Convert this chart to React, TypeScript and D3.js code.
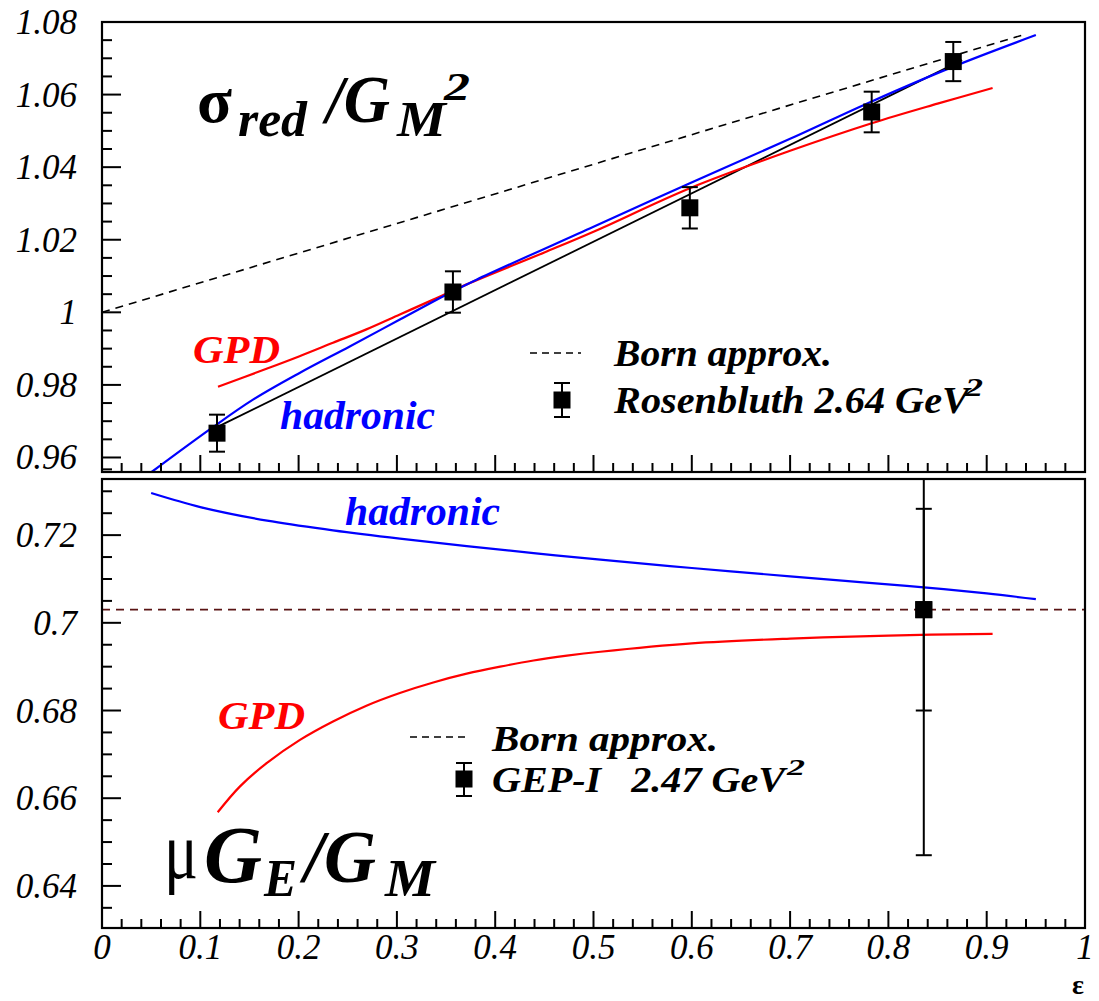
import React from "react";
import * as d3 from "d3";

// top panel: reduced cross section / G_M^2
const rosenEps = [0.117, 0.357, 0.598, 0.783, 0.866];
const rosenVals = [0.9667, 1.0056, 1.0288, 1.0552, 1.0691];
const rosenErr = [0.0051, 0.0057, 0.0057, 0.0056, 0.0054];

const fitEps = [0.118, 0.875];
const fitVals = [0.9685, 1.0695];

const bornTopEps = [0, 0.94];
const bornTopVals = [1.0, 1.0767];

const gpdTopEps = [0.118, 0.168, 0.201, 0.235, 0.269, 0.303, 0.337, 0.371, 0.45, 0.5, 0.598, 0.7, 0.783, 0.85, 0.906];
const gpdTopVals = [0.9795, 0.9845, 0.9879, 0.9916, 0.9953, 0.9994, 1.0035, 1.0077, 1.0165, 1.0222, 1.0342, 1.0445, 1.0521, 1.0575, 1.0618];

const hadTopEps = [0.0505, 0.11, 0.154, 0.201, 0.252, 0.303, 0.354, 0.381, 0.5, 0.598, 0.7, 0.783, 0.866, 0.95];
const hadTopVals = [0.956, 0.9678, 0.976, 0.9833, 0.9906, 0.998, 1.0054, 1.009, 1.0236, 1.0356, 1.0478, 1.0581, 1.0677, 1.0764];

// bottom panel: mu G_E / G_M
const gepEps = [0.836];
const gepVals = [0.703];
const gepStat = [0.023];
const gepTot = [0.056];

const bornBotEps = [0, 1];
const bornBotVals = [0.703, 0.703];

const hadBotEps = [0.05, 0.1, 0.168, 0.235, 0.303, 0.371, 0.439, 0.507, 0.6, 0.7, 0.771, 0.836, 0.9, 0.95];
const hadBotVals = [0.7296, 0.7264, 0.7233, 0.7211, 0.7192, 0.7175, 0.7159, 0.7144, 0.7125, 0.7106, 0.7093, 0.7081, 0.7067, 0.7054];

const gpdBotEps = [0.1177, 0.1404, 0.1675, 0.2014, 0.235, 0.269, 0.303, 0.337, 0.371, 0.405, 0.439, 0.473, 0.507, 0.6, 0.7, 0.8, 0.906];
const gpdBotVals = [0.6568, 0.6627, 0.668, 0.6733, 0.6775, 0.6811, 0.684, 0.6864, 0.6884, 0.69, 0.6914, 0.6925, 0.6934, 0.6953, 0.6964, 0.6971, 0.6975];

const xTickLabels = ["0", "0.1", "0.2", "0.3", "0.4", "0.5", "0.6", "0.7", "0.8", "0.9", "1"];
const yTopLabels = ["0.96", "0.98", "1", "1.02", "1.04", "1.06", "1.08"];
const yBotLabels = ["0.64", "0.66", "0.68", "0.7", "0.72"];

const W = 1099;
const H = 1001;
const left = 102;
const right = 1085;
const topPanel = { y0: 22, y1: 472 };
const botPanel = { y0: 479, y1: 928 };

const serif =
  '"Liberation Serif", "Tinos", "Times New Roman", Times, "Nimbus Roman", "FreeSerif", "Noto Serif", "DejaVu Serif", serif';

const zip = (xs: number[], ys: number[]) => xs.map((x, i) => [x, ys[i]] as [number, number]);

// text stretched to the width it has in the picture
function T(props: {
  x: number;
  y: number;
  w: number;
  size: number;
  fill?: string;
  italic?: boolean;
  bold?: boolean;
  children: React.ReactNode;
}) {
  return (
    <text
      x={props.x}
      y={props.y}
      textLength={props.w}
      lengthAdjust="spacingAndGlyphs"
      fill={props.fill || "#000"}
      style={{
        fontFamily: serif,
        fontSize: props.size,
        fontStyle: props.italic === false ? "normal" : "italic",
        fontWeight: props.bold === false ? "normal" : "bold",
        whiteSpace: "pre",
      }}
    >
      {props.children}
    </text>
  );
}

export default function App() {
  const x = d3.scaleLinear().domain([0, 1]).range([left, right]);
  const yTop = d3.scaleLinear().domain([0.956, 1.08]).range([topPanel.y1, topPanel.y0]);
  const yBot = d3.scaleLinear().domain([0.6304, 0.7328]).range([botPanel.y1, botPanel.y0]);

  const lineTop = d3
    .line<[number, number]>()
    .x((d) => x(d[0]))
    .y((d) => yTop(d[1]))
    .curve(d3.curveCatmullRom.alpha(0.5));
  const lineBot = d3
    .line<[number, number]>()
    .x((d) => x(d[0]))
    .y((d) => yBot(d[1]))
    .curve(d3.curveCatmullRom.alpha(0.5));

  const xMinor = d3.range(0, 51).map((i) => i / 50);
  const yTopMinor = d3.range(0, 25).map((i) => 0.96 + i * 0.005);
  const yBotMinor = d3.range(0, 21).map((i) => 0.635 + i * 0.005);

  const isMajor = (v: number, step: number) => Math.abs(v / step - Math.round(v / step)) < 1e-6;

  const xTicks = (y1: number) =>
    xMinor.map((v, i) => {
      const major = isMajor(v, 0.1);
      return (
        <line
          key={"xt" + y1 + i}
          x1={x(v)}
          x2={x(v)}
          y1={y1}
          y2={y1 - (major ? 17 : 9)}
          stroke="#000"
          strokeWidth={2}
        />
      );
    });

  const yTicks = (vals: number[], scale: d3.ScaleLinear<number, number>, key: string) =>
    vals.map((v, i) => {
      const major = isMajor(v, 0.02);
      return (
        <line
          key={key + i}
          x1={left}
          x2={left + (major ? 19 : 10)}
          y1={scale(v)}
          y2={scale(v)}
          stroke="#000"
          strokeWidth={2}
        />
      );
    });

  const marker = (cx: number, cy: number, top: number, bot: number, key: string, capW = 16) => (
    <g key={key}>
      <line x1={cx} x2={cx} y1={top} y2={bot} stroke="#000" strokeWidth={2} />
      <line x1={cx - capW / 2} x2={cx + capW / 2} y1={top} y2={top} stroke="#000" strokeWidth={2} />
      <line x1={cx - capW / 2} x2={cx + capW / 2} y1={bot} y2={bot} stroke="#000" strokeWidth={2} />
      <rect x={cx - 8.5} y={cy - 8.5} width={17} height={17} fill="#000" />
    </g>
  );

  const tick = { fontFamily: serif, fontStyle: "italic", fontSize: 35 } as React.CSSProperties;

  return (
    <svg
      width={W}
      height={H}
      viewBox={`0 0 ${W} ${H}`}
      style={{ position: "absolute", left: 0, top: 0, background: "#fff" }}
    >
      <defs>
        <clipPath id="clipTop">
          <rect x={left} y={topPanel.y0} width={right - left} height={topPanel.y1 - topPanel.y0} />
        </clipPath>
        <clipPath id="clipBot">
          <rect x={left} y={botPanel.y0} width={right - left} height={botPanel.y1 - botPanel.y0} />
        </clipPath>
      </defs>
      <rect width={W} height={H} fill="#fff" />

      {/* top panel */}
      <g clipPath="url(#clipTop)">
        <path d={lineTop(zip(bornTopEps, bornTopVals)) || ""} fill="none" stroke="#000" strokeWidth={1.6} strokeDasharray="8,6" />
        <path d={lineTop(zip(fitEps, fitVals)) || ""} fill="none" stroke="#000" strokeWidth={1.8} />
        <path d={lineTop(zip(gpdTopEps, gpdTopVals)) || ""} fill="none" stroke="#ff0000" strokeWidth={2.2} />
        <path d={lineTop(zip(hadTopEps, hadTopVals)) || ""} fill="none" stroke="#0000ff" strokeWidth={2.2} />
        {rosenEps.map((e, i) =>
          marker(x(e), yTop(rosenVals[i]), yTop(rosenVals[i] + rosenErr[i]), yTop(rosenVals[i] - rosenErr[i]), "r" + i)
        )}
      </g>
      <rect x={left} y={topPanel.y0} width={right - left} height={topPanel.y1 - topPanel.y0} fill="none" stroke="#000" strokeWidth={2.2} />
      {xTicks(topPanel.y1)}
      {yTicks(yTopMinor, yTop, "yt")}
      {yTopLabels.map((s) => (
        <text key={"ytl" + s} x={77} y={yTop(+s) + 12} textAnchor="end" style={tick}>
          {s}
        </text>
      ))}

      {/* top title */}
      <T x={197} y={122} w={35} size={64} italic={false}>σ</T>
      <T x={238} y={136} w={69} size={50}>red</T>
      <T x={326} y={122} w={64} size={68}>/G</T>
      <T x={397} y={136} w={49} size={50}>M</T>
      <T x={444} y={100} w={26} size={40}>2</T>

      {/* top curve labels */}
      <T x={193} y={363} w={87} size={40} fill="#ff0000">GPD</T>
      <T x={280} y={429} w={155} size={40} fill="#0000ff">hadronic</T>

      {/* top legend */}
      <line x1={530} x2={581} y1={353} y2={353} stroke="#000" strokeWidth={1.6} strokeDasharray="7,5" />
      <T x={614} y={366} w={218} size={38}>Born approx.</T>
      {marker(562, 400, 383, 417, "legTop")}
      <T x={614} y={413} w={355} size={38}>Rosenbluth 2.64 GeV</T>
      <T x={965} y={396} w={18} size={26}>2</T>

      {/* bottom panel */}
      <g clipPath="url(#clipBot)">
        <path d={lineBot(zip(bornBotEps, bornBotVals)) || ""} fill="none" stroke="#5a1414" strokeWidth={1.8} strokeDasharray="8,6" />
        <path d={lineBot(zip(hadBotEps, hadBotVals)) || ""} fill="none" stroke="#0000ff" strokeWidth={2.2} />
        <path d={lineBot(zip(gpdBotEps, gpdBotVals)) || ""} fill="none" stroke="#ff0000" strokeWidth={2.2} />
        {gepEps.map((e, i) => (
          <g key={"gep" + i}>
            {marker(x(e), yBot(gepVals[i]), yBot(gepVals[i] + gepTot[i]), yBot(gepVals[i] - gepTot[i]), "gt" + i)}
            {marker(x(e), yBot(gepVals[i]), yBot(gepVals[i] + gepStat[i]), yBot(gepVals[i] - gepStat[i]), "gs" + i)}
          </g>
        ))}
      </g>
      <rect x={left} y={botPanel.y0} width={right - left} height={botPanel.y1 - botPanel.y0} fill="none" stroke="#000" strokeWidth={2.2} />
      {xTicks(botPanel.y1)}
      {yTicks(yBotMinor, yBot, "yb")}
      {yBotLabels.map((s) => (
        <text key={"ybl" + s} x={77} y={yBot(+s) + 12} textAnchor="end" style={tick}>
          {s}
        </text>
      ))}
      {xTickLabels.map((s) => (
        <text key={"xl" + s} x={x(+s)} y={959} textAnchor="middle" style={tick}>
          {s}
        </text>
      ))}
      <text x={1078} y={994} textAnchor="middle" style={{ fontFamily: serif, fontWeight: "bold", fontSize: 28 }}>ε</text>

      {/* bottom curve labels */}
      <T x={345} y={525} w={155} size={40} fill="#0000ff">hadronic</T>
      <T x={218} y={729} w={87} size={40} fill="#ff0000">GPD</T>

      {/* bottom legend */}
      <line x1={410} x2={467} y1={737} y2={737} stroke="#000" strokeWidth={1.6} strokeDasharray="7,5" />
      <T x={492} y={751} w={226} size={35}>Born approx.</T>
      {marker(464, 779, 763, 796, "legBot")}
      <T x={492} y={792} w={293} size={35}>GEP-I   2.47 GeV</T>
      <T x={787} y={775} w={18} size={24}>2</T>

      {/* bottom title */}
      <T x={164} y={878} w={34} size={80} italic={false} bold={false}>μ</T>
      <T x={204} y={882} w={58} size={80}>G</T>
      <T x={264} y={896} w={33} size={52}>E</T>
      <T x={304} y={882} w={72} size={74}>/G</T>
      <T x={385} y={896} w={50} size={52}>M</T>
    </svg>
  );
}
